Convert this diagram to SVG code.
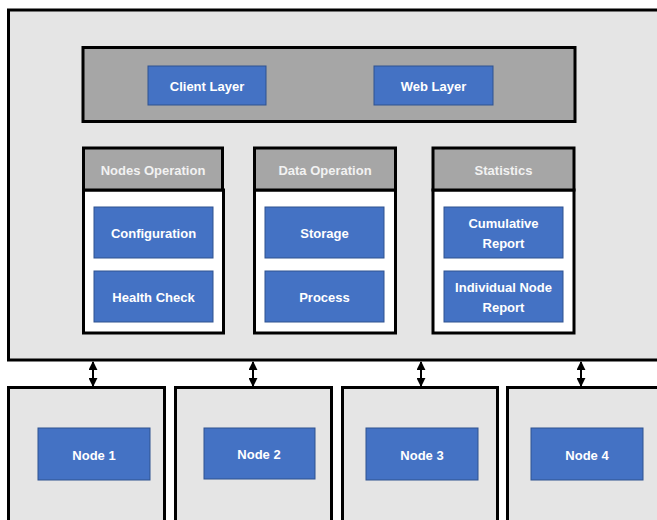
<svg xmlns="http://www.w3.org/2000/svg" width="657" height="520" viewBox="0 0 657 520">
<defs>
<style>
.cont{fill:#e5e5e5;stroke:#000;stroke-width:3}
.bar{fill:#a6a6a6;stroke:#000;stroke-width:3}
.hdr{fill:#a6a6a6;stroke:#000;stroke-width:3}
.body{fill:#fff;stroke:#000;stroke-width:3}
.blue{fill:#4472c4;stroke:#2f528f;stroke-width:1}
.t{font-family:"Liberation Sans",Arial,sans-serif;font-weight:bold;font-size:13px;fill:#fff;text-anchor:middle;dominant-baseline:central}
.th{fill:#f2f2f2}
.conn{stroke:#000;stroke-width:2;fill:none;marker-start:url(#ah);marker-end:url(#ah)}
</style>
<marker id="ah" viewBox="0 0 10 10" refX="9" refY="5" markerWidth="4.5" markerHeight="4.5" orient="auto-start-reverse" markerUnits="strokeWidth">
<path d="M0,0 L10,5 L0,10 z" fill="#000"/>
</marker>
</defs>
<rect width="657" height="520" fill="#fff"/>
<g id="system">
<rect class="cont" x="8.5" y="10" width="660" height="350"/>
</g>
<g id="top-layer">
<rect class="bar" x="83" y="47.5" width="492" height="74"/>
</g>
<g id="client-layer">
<rect class="blue" x="148" y="66" width="118" height="39"/>
<text class="t" x="207" y="86">Client Layer</text>
</g>
<g id="web-layer">
<rect class="blue" x="374" y="66" width="119" height="39"/>
<text class="t" x="433.5" y="86">Web Layer</text>
</g>
<g id="nodes-operation">
<rect class="body" x="83.5" y="190" width="140" height="143"/>
<rect class="hdr" x="83.5" y="148" width="139" height="42"/>
<text class="t th" x="153" y="170">Nodes Operation</text>
</g>
<g id="configuration">
<rect class="blue" x="94" y="207" width="119" height="51"/>
<text class="t" x="153.5" y="233">Configuration</text>
</g>
<g id="health-check">
<rect class="blue" x="94" y="271" width="119" height="51"/>
<text class="t" x="153.5" y="297">Health Check</text>
</g>
<g id="data-operation">
<rect class="body" x="254.5" y="190" width="141" height="143"/>
<rect class="hdr" x="254.5" y="148" width="141" height="42"/>
<text class="t th" x="325" y="170">Data Operation</text>
</g>
<g id="storage">
<rect class="blue" x="265" y="207" width="119" height="51"/>
<text class="t" x="324.5" y="233">Storage</text>
</g>
<g id="process">
<rect class="blue" x="265" y="271" width="119" height="51"/>
<text class="t" x="324.5" y="297">Process</text>
</g>
<g id="statistics">
<rect class="body" x="433" y="190" width="141" height="143"/>
<rect class="hdr" x="433" y="148" width="141" height="42"/>
<text class="t th" x="503.5" y="170">Statistics</text>
</g>
<g id="cumulative-report">
<rect class="blue" x="444" y="207" width="119" height="51"/>
<text class="t" x="503.5" y="223">Cumulative</text>
<text class="t" x="503.5" y="243">Report</text>
</g>
<g id="individual-node-report">
<rect class="blue" x="444" y="271" width="119" height="51"/>
<text class="t" x="503.5" y="287">Individual Node</text>
<text class="t" x="503.5" y="307">Report</text>
</g>
<g id="connectors">
<line class="conn" x1="93" y1="362" x2="93" y2="386"/>
<line class="conn" x1="253" y1="362" x2="253" y2="386"/>
<line class="conn" x1="421" y1="362" x2="421" y2="386"/>
<line class="conn" x1="581" y1="362" x2="581" y2="386"/>
</g>
<g id="node1-container">
<rect class="cont" x="8.5" y="387.5" width="156" height="150"/>
</g>
<g id="node1">
<rect class="blue" x="38" y="428" width="112" height="52"/>
<text class="t" x="94" y="455">Node 1</text>
</g>
<g id="node2-container">
<rect class="cont" x="175.5" y="387.5" width="156" height="150"/>
</g>
<g id="node2">
<rect class="blue" x="204" y="428" width="111" height="51"/>
<text class="t" x="259" y="454">Node 2</text>
</g>
<g id="node3-container">
<rect class="cont" x="342.5" y="387.5" width="155" height="150"/>
</g>
<g id="node3">
<rect class="blue" x="366" y="428" width="112" height="52"/>
<text class="t" x="422" y="455">Node 3</text>
</g>
<g id="node4-container">
<rect class="cont" x="507.5" y="387.5" width="170" height="150"/>
</g>
<g id="node4">
<rect class="blue" x="531" y="428" width="112" height="52"/>
<text class="t" x="587" y="455">Node 4</text>
</g>
</svg>
